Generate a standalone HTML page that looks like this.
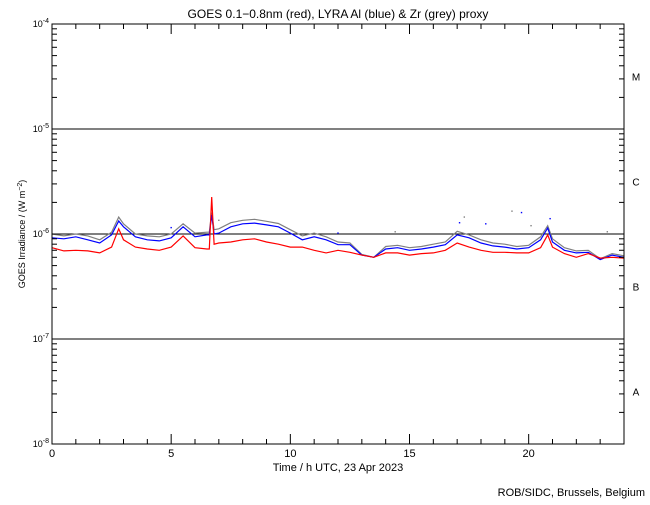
<!DOCTYPE html>
<html><head><meta charset="utf-8"><style>
body{margin:0;background:#fff;}
svg text{font-family:"Liberation Sans",sans-serif;fill:#000;}
</style></head><body>
<svg id="chart" width="650" height="500" xmlns="http://www.w3.org/2000/svg">
<rect width="650" height="500" fill="#fff"/>
<text x="338" y="18" font-size="12" text-anchor="middle">GOES 0.1−0.8nm (red), LYRA Al (blue) &amp; Zr (grey) proxy</text>
<text x="338" y="471" font-size="11" text-anchor="middle">Time / h UTC, 23 Apr 2023</text>
<text x="0" y="0" font-size="9" text-anchor="middle" transform="translate(25,234) rotate(-90)">GOES Irradiance / (W m<tspan baseline-shift="super" font-size="7">−2</tspan>)</text>
<text x="645" y="496" font-size="11" text-anchor="end">ROB/SIDC, Brussels, Belgium</text>
<g id="grid"></g><g id="series"></g><g id="axes"></g>
</svg>
<script>
const times=[0,0.5,1,1.5,2,2.5,2.8,3,3.5,4,4.5,5,5.5,6,6.5,6.6,6.7,6.8,7,7.5,8,8.5,9,9.5,10,10.5,11,11.5,12,12.5,13,13.5,14,14.5,15,15.5,16,16.5,17,17.5,18,18.5,19,19.5,20,20.5,20.8,21,21.5,22,22.5,23,23.5,24];
const redVals=[7.4,6.9,7.0,6.9,6.6,7.5,11.2,8.8,7.5,7.2,7.0,7.5,9.6,7.4,7.2,7.2,22.5,8.0,8.2,8.4,8.8,9.0,8.4,8.0,7.5,7.5,7.0,6.6,7.0,6.7,6.3,6.0,6.6,6.6,6.3,6.5,6.6,7.0,8.2,7.5,7.0,6.7,6.7,6.6,6.6,7.4,9.8,7.5,6.5,6.0,6.5,5.9,6.0,5.9];
const blueVals=[9.2,9.0,9.4,8.8,8.2,9.8,13.3,11.7,9.4,8.8,8.6,9.2,11.7,9.4,9.8,9.8,15.2,10.0,10.2,11.7,12.5,12.7,12.2,11.7,10.2,8.8,9.4,8.8,7.9,7.9,6.3,6.0,7.2,7.4,7.0,7.2,7.5,7.9,9.8,9.2,8.2,7.7,7.5,7.2,7.4,8.8,11.4,8.4,7.0,6.6,6.7,5.7,6.3,6.0];
const greyVals=[10.0,9.6,10.0,9.6,8.8,10.4,14.5,12.5,10.0,9.6,9.4,10.0,12.5,10.2,10.4,10.4,16,11.0,11.2,12.8,13.5,13.8,13.2,12.6,11.0,9.6,10.2,9.4,8.4,8.2,6.4,6.0,7.6,7.8,7.4,7.6,8.0,8.4,10.6,9.8,8.8,8.2,8.0,7.6,7.8,9.4,12.0,9.0,7.4,6.9,7.0,5.8,6.5,6.2];
const spikeTimes=[5.0,7.0,12.0,14.4,17.1,17.3,18.2,19.3,19.7,20.1,20.9,23.3];
const spikeVals=[11.5,13.5,10.2,10.5,12.8,14.5,12.5,16.5,16.0,12.0,14.0,10.5];
const xTicks=[0,5,10,15,20];
const xTickLabels=["0","5","10","15","20"];
const decades=[-8,-7,-6,-5,-4];
const classLabels=["A","B","C","M"];
const X0=52,X1=624,Y0=444,Y1=24;
const xs=h=>X0+(X1-X0)*h/24;
const ys=v=>Y0-(Math.log10(v)+8)*(Y0-Y1)/4;
const NS="http://www.w3.org/2000/svg";
function mk(tag,attrs,parent){const e=document.createElementNS(NS,tag);for(const k in attrs)e.setAttribute(k,attrs[k]);parent.appendChild(e);return e;}
const grid=document.getElementById('grid'),ser=document.getElementById('series'),ax=document.getElementById('axes');
[-7,-6,-5].forEach(d=>{const l=mk('line',{x1:X0,x2:X1,y1:ys(Math.pow(10,d)),y2:ys(Math.pow(10,d)),stroke:'#000','stroke-width':1},grid);

});
function drawSeries(vals,color,name){
 const pts=times.map((t,i)=>xs(t).toFixed(1)+','+ys(vals[i]*1e-7).toFixed(1)).join(' ');
 const p=mk('polyline',{points:pts,fill:'none',stroke:color,'stroke-width':1.2},ser);
 
 
}
drawSeries(greyVals,'#808080','zr-proxy-series');
drawSeries(blueVals,'#0000ff','al-proxy-series');
drawSeries(redVals,'#ff0000','goes-series');
spikeTimes.forEach((t,i)=>{const r=mk('rect',{x:xs(t)-0.7,y:ys(spikeVals[i]*1e-7)-0.7,width:1.4,height:1.4,fill:i%2?'#808080':'#0000ff'},ser);

});
const frame=mk('rect',{x:X0,y:Y1,width:X1-X0,height:Y0-Y1,fill:'none',stroke:'#000','stroke-width':1},ax);


for(let h=0;h<=24;h++){const x=xs(h);const len=h%5===0?10:5;
 mk('line',{x1:x,x2:x,y1:Y0,y2:Y0-len,stroke:'#000'},ax);
 mk('line',{x1:x,x2:x,y1:Y1,y2:Y1+len,stroke:'#000'},ax);}
xTicks.forEach((t,i)=>{const e=mk('text',{x:xs(t),y:457,'font-size':11,'text-anchor':'middle'},ax);e.textContent=xTickLabels[i];

});
for(let d=-8;d<-4;d++){for(let m=2;m<=9;m++){const y=ys(m*Math.pow(10,d));
 mk('line',{x1:X0,x2:X0+5,y1:y,y2:y,stroke:'#000'},ax);
 mk('line',{x1:X1,x2:X1-5,y1:y,y2:y,stroke:'#000'},ax);}}
decades.forEach(d=>{const y=ys(Math.pow(10,d));
 mk('line',{x1:X0,x2:X0+10,y1:y,y2:y,stroke:'#000'},ax);
 mk('line',{x1:X1,x2:X1-10,y1:y,y2:y,stroke:'#000'},ax);
 const e=mk('text',{x:49,y:y+3,'font-size':9,'text-anchor':'end'},ax);
 e.innerHTML='10<tspan dy="-4" font-size="7">'+d+'</tspan>';
 
 });
classLabels.forEach((c,i)=>{const e=mk('text',{x:636,y:ys(Math.pow(10,-7.5+i))+4,'font-size':10,'text-anchor':'middle'},ax);e.textContent=c;

});
</script>
</body></html>
